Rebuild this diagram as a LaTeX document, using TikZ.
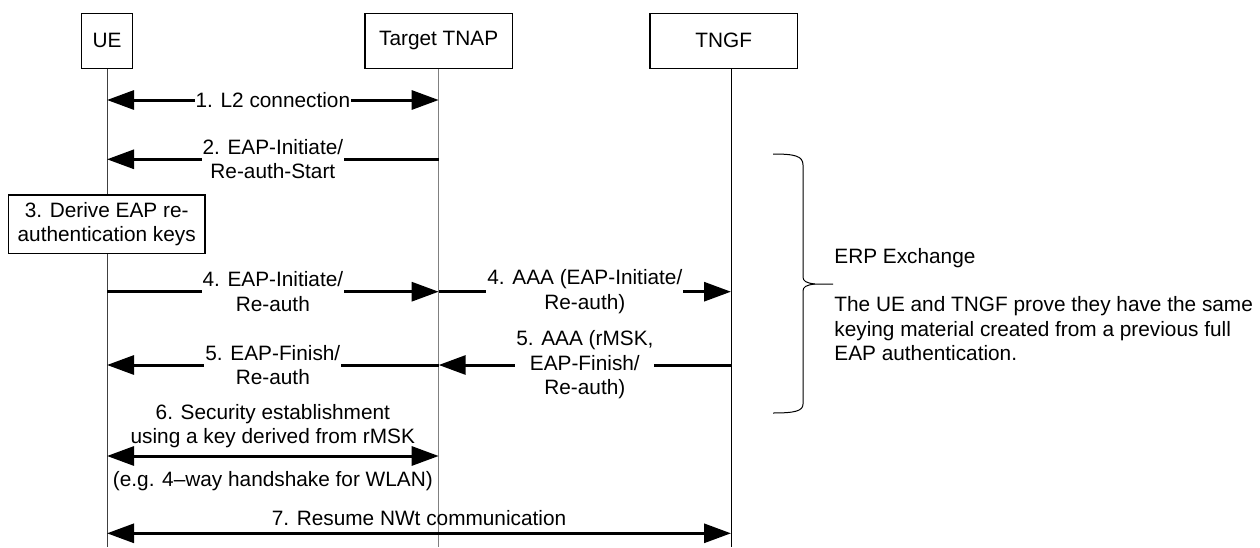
\documentclass[tikz,border=0pt]{standalone}
\usepackage{fontspec}
\setmainfont{Liberation Sans}
\usetikzlibrary{arrows.meta,positioning}

\begin{document}
\begin{tikzpicture}[x=0.5pt, y=-0.5pt, >={Triangle[length=13.5pt,width=9.5pt]},
  every node/.style={font=\fontsize{10.4}{12.2}\selectfont},
  entity/.style={draw, line width=0.6pt, fill=white, inner sep=0pt, align=center},
  msg/.style={line width=1.5pt},
  lbl/.style={fill=white, inner sep=0.5pt, align=center}]
  \useasboundingbox (0,0) rectangle (1260,547);

  % Entities
  \node[entity, minimum width=25.5pt, minimum height=27.5pt] (ue) at (107,40.8) {UE};
  \node[entity, minimum width=73.7pt, minimum height=27.5pt] (tnap) at (438.7,40.8) {Target TNAP};
  \node[entity, minimum width=73.7pt, minimum height=27.5pt] (tngf) at (723.7,40.8) {TNGF};
  \coordinate (tngfL) at (731,68.3);
  \coordinate (bot) at (0,547);

  % Lifelines
  \draw[line width=0.5pt, black!75] (ue.south) -- (ue.south |- bot);
  \draw[line width=0.5pt, black!50] (tnap.south) -- (tnap.south |- bot);
  \draw[line width=0.5pt] (tngfL) -- (tngfL |- bot);

  % Message levels
  \coordinate (m1) at (0,100);
  \coordinate (m2) at (0,159.3);
  \coordinate (m4) at (0,291.7);
  \coordinate (m5) at (0,365);
  \coordinate (m6) at (0,456);
  \coordinate (m7) at (0,533.3);

  % Steps 1 and 2
  \draw[msg,<->] (ue |- m1) -- node[lbl] {1. L2 connection} (tnap |- m1);
  \draw[msg,->] (tnap |- m2) -- node[lbl] {2. EAP-Initiate/\\Re-auth-Start} (ue |- m2);

  % Step 3
  \node[entity, minimum width=98.3pt, minimum height=29.2pt] (derive) at (106.7,224.2) {3. Derive EAP re-\\authentication keys};

  % Steps 4 and 5
  \draw[msg,->] (ue |- m4) -- node[lbl] {4. EAP-Initiate/\\Re-auth} (tnap |- m4);
  \draw[msg,->] (tnap |- m4) -- node[lbl] {4. AAA (EAP-Initiate/\\Re-auth)} (tngfL |- m4);
  \draw[msg,->] (tngfL |- m5) -- node[lbl] {5. AAA (rMSK,\\EAP-Finish/\\Re-auth)} (tnap |- m5);
  \draw[msg,->] (tnap |- m5) -- node[lbl] {5. EAP-Finish/\\Re-auth} (ue |- m5);

  % Steps 6 and 7
  \draw[msg,<->] (ue |- m6) -- node[above=3.2pt, inner sep=0pt, align=center] {6. Security establishment\\using a key derived from rMSK}
    node[below=7pt, inner sep=0pt] {(e.g. 4--way handshake for WLAN)} (tnap |- m6);
  \draw[msg,<->] (ue |- m7) -- node[above=3pt, inner sep=0pt] {7. Resume NWt communication} (tngfL |- m7);

  % ERP brace and note
  \draw[line width=0.5pt] (773,154) .. controls (795,154) and (803,156) .. (803,165) -- (803,277)
    .. controls (803,281) and (806,283) .. (815,284) -- (833,284);
  \draw[line width=0.5pt] (815,284) .. controls (806,285) and (803,287) .. (803,291) -- (803,404)
    .. controls (803,411) and (795,413) .. (773,413);
  \node[anchor=base west, inner sep=0pt] (erp) at (834,263) {ERP Exchange};
  \node[anchor=north west, inner sep=0pt, align=left] (proof) at (834,296.5) {The UE and TNGF prove they have the same\\keying material created from a previous full\\EAP authentication.};
\end{tikzpicture}
\end{document}
